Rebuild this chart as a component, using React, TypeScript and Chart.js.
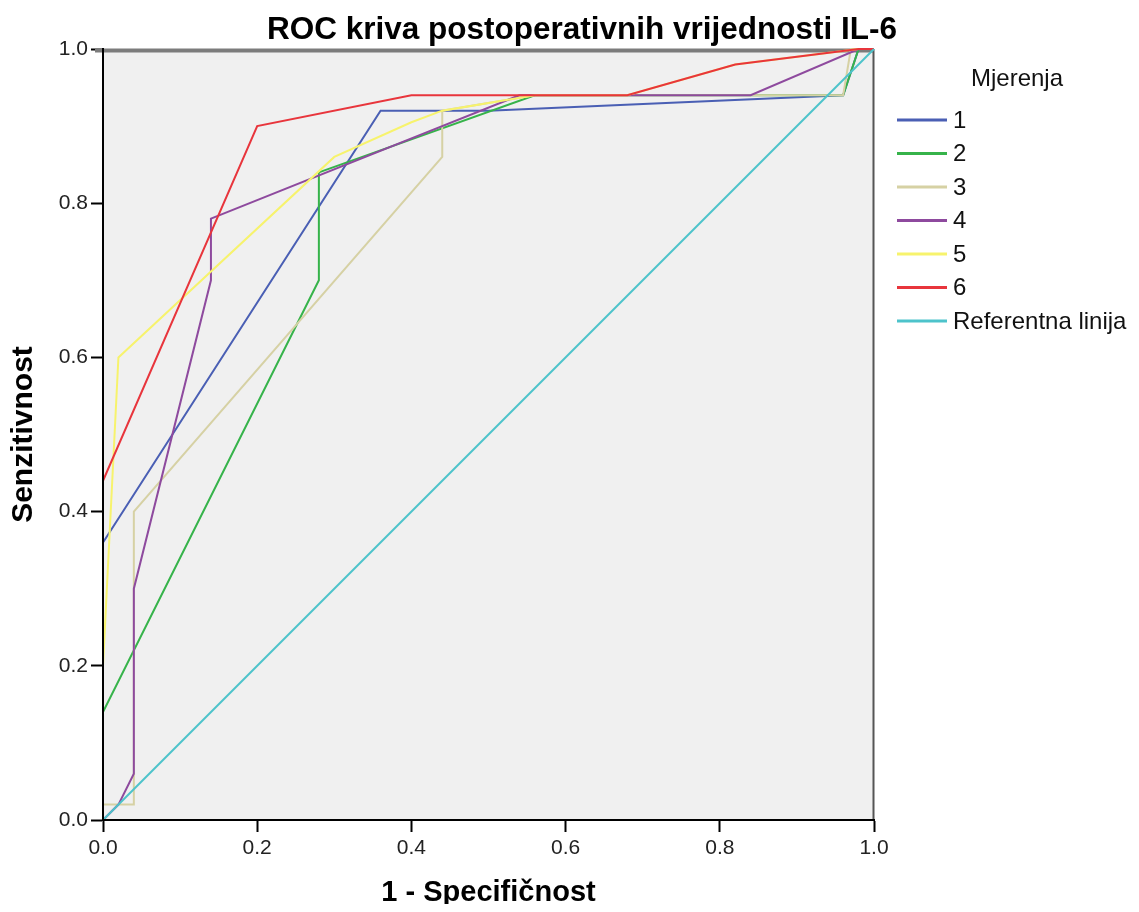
import React, { useEffect, useRef } from "react";
import { Chart, registerables } from "chart.js";

Chart.register(...registerables);

// ---- Data ----
const seriesLabels = ["1", "2", "3", "4", "5", "6", "Referentna linija"];
const seriesColors = ["#4a5fb4", "#36b34a", "#d6d1a4", "#8e4a9e", "#f7f36c", "#e8353c", "#4dc3cb"];

const s1X = [0, 0, 0.36, 0.5, 0.96, 0.98, 1];
const s1Y = [0, 0.36, 0.92, 0.92, 0.94, 1, 1];

const s2X = [0, 0, 0.28, 0.28, 0.56, 0.96, 0.98, 1];
const s2Y = [0, 0.14, 0.7, 0.84, 0.94, 0.94, 1, 1];

const s3X = [0, 0, 0.04, 0.04, 0.44, 0.44, 0.56, 0.96, 0.97, 1];
const s3Y = [0, 0.02, 0.02, 0.4, 0.86, 0.92, 0.94, 0.94, 1, 1];

const s4X = [0, 0.02, 0.04, 0.04, 0.14, 0.14, 0.54, 0.84, 0.98, 1];
const s4Y = [0, 0.02, 0.06, 0.3, 0.7, 0.78, 0.94, 0.94, 1, 1];

const s5X = [0, 0, 0.02, 0.3, 0.4, 0.44, 0.56, 0.68, 0.82, 0.98, 1];
const s5Y = [0, 0.2, 0.6, 0.86, 0.905, 0.92, 0.94, 0.94, 0.98, 1, 1];

const s6X = [0, 0, 0.2, 0.4, 0.68, 0.82, 0.98, 1];
const s6Y = [0, 0.44, 0.9, 0.94, 0.94, 0.98, 1, 1];

const refX = [0, 1];
const refY = [0, 1];

const tickValues = [0, 0.2, 0.4, 0.6, 0.8, 1.0];

const titleText = "ROC kriva postoperativnih vrijednosti IL-6";
const xTitle = "1 - Specifičnost";
const yTitle = "Senzitivnost";
const legendTitle = "Mjerenja";

const allX = [s1X, s2X, s3X, s4X, s5X, s6X, refX];
const allY = [s1Y, s2Y, s3Y, s4Y, s5Y, s6Y, refY];

const FONT = '"Liberation Sans", Arial, sans-serif';

const decorPlugin = {
  id: "decor",
  beforeDraw(chart: any) {
    const { ctx, chartArea } = chart;
    ctx.save();
    ctx.fillStyle = "#f0f0f0";
    ctx.fillRect(chartArea.left, chartArea.top, chartArea.right - chartArea.left, chartArea.bottom - chartArea.top);
    ctx.restore();
  },
  beforeDatasetsDraw(chart: any) {
    const { ctx, chartArea } = chart;
    ctx.save();
    ctx.fillStyle = "#7c7c7c";
    ctx.fillRect(chartArea.left - 8, chartArea.top - 0.5, chartArea.right - chartArea.left + 8, 4);
    ctx.fillStyle = "#555555";
    ctx.fillRect(chartArea.right - 1.5, chartArea.top, 2, chartArea.bottom - chartArea.top);
    ctx.restore();
  },
  afterDraw(chart: any) {
    const { ctx } = chart;
    ctx.save();
    // Title
    ctx.fillStyle = "#000";
    ctx.font = `bold 31.5px ${FONT}`;
    ctx.textAlign = "center";
    ctx.textBaseline = "alphabetic";
    ctx.fillText(titleText, 574, 30.5);
    // Legend
    ctx.font = `24px ${FONT}`;
    ctx.fillStyle = "#111";
    ctx.textBaseline = "middle";
    ctx.textAlign = "center";
    ctx.fillText(legendTitle, 1009, 71);
    ctx.textAlign = "left";
    chart.data.datasets.forEach((ds: any, i: number) => {
      const y = 112 + i * 33.5;
      ctx.strokeStyle = ds.borderColor;
      ctx.lineWidth = 3;
      ctx.beginPath();
      ctx.moveTo(889, y);
      ctx.lineTo(939, y);
      ctx.stroke();
      ctx.fillStyle = "#111";
      ctx.fillText(ds.label, 945, y + 1);
    });
    ctx.restore();
  },
};

export default function App() {
  const ref = useRef<HTMLCanvasElement | null>(null);
  useEffect(() => {
    if (!ref.current) return;
    const datasets = seriesLabels.map((label, i) => ({
      label,
      data: allX[i].map((x, j) => ({ x, y: allY[i][j] })),
      borderColor: seriesColors[i],
      backgroundColor: seriesColors[i],
      borderWidth: 2,
      showLine: true,
      pointRadius: 0,
      fill: false,
      tension: 0,
      clip: 5,
      order: 10 - i,
    }));
    const tickCfg = {
      font: { family: FONT, size: 21 },
      color: "#222",
      callback: (v: any) => Number(v).toFixed(1),
    };
    const chart = new Chart(ref.current, {
      type: "scatter",
      data: { datasets },
      plugins: [decorPlugin],
      options: {
        animation: false,
        responsive: false,
        maintainAspectRatio: false,
        layout: { padding: { top: 41, right: 257, left: 0, bottom: 0 } },
        plugins: { legend: { display: false }, title: { display: false }, tooltip: { enabled: false } },
        scales: {
          x: {
            type: "linear",
            min: 0,
            max: 1,
            afterBuildTicks: (s: any) => {
              s.ticks = tickValues.map((v) => ({ value: v }));
            },
            afterFit: (s: any) => {
              s.height = 84;
            },
            ticks: { ...tickCfg, padding: 4, maxRotation: 0, z: 1 },
            grid: { drawOnChartArea: false, drawTicks: true, tickLength: 12, tickColor: "#000", tickWidth: 2 },
            border: { display: true, color: "#000", width: 2, z: 1 },
            title: {
              display: true,
              text: xTitle,
              color: "#000",
              font: { family: FONT, size: 29, weight: "bold", lineHeight: 0.75 },
              padding: 0,
            },
          },
          y: {
            type: "linear",
            min: 0,
            max: 1,
            afterBuildTicks: (s: any) => {
              s.ticks = tickValues.map((v) => ({ value: v }));
            },
            afterFit: (s: any) => {
              s.width = 95;
            },
            ticks: { ...tickCfg, padding: 3, z: 1 },
            grid: { drawOnChartArea: false, drawTicks: true, tickLength: 12, tickColor: "#000", tickWidth: 2 },
            border: { display: true, color: "#000", width: 2, z: 1 },
            title: {
              display: true,
              text: yTitle,
              color: "#000",
              font: { family: FONT, size: 30, weight: "bold", lineHeight: 1 },
              padding: { top: 1, bottom: 0 },
            },
          },
        },
      },
    } as any);
    return () => chart.destroy();
  }, []);
  return (
    <div style={{ width: 1123, height: 896 }}>
      <canvas ref={ref} width={1123} height={896} style={{ display: "block" }} />
    </div>
  );
}
